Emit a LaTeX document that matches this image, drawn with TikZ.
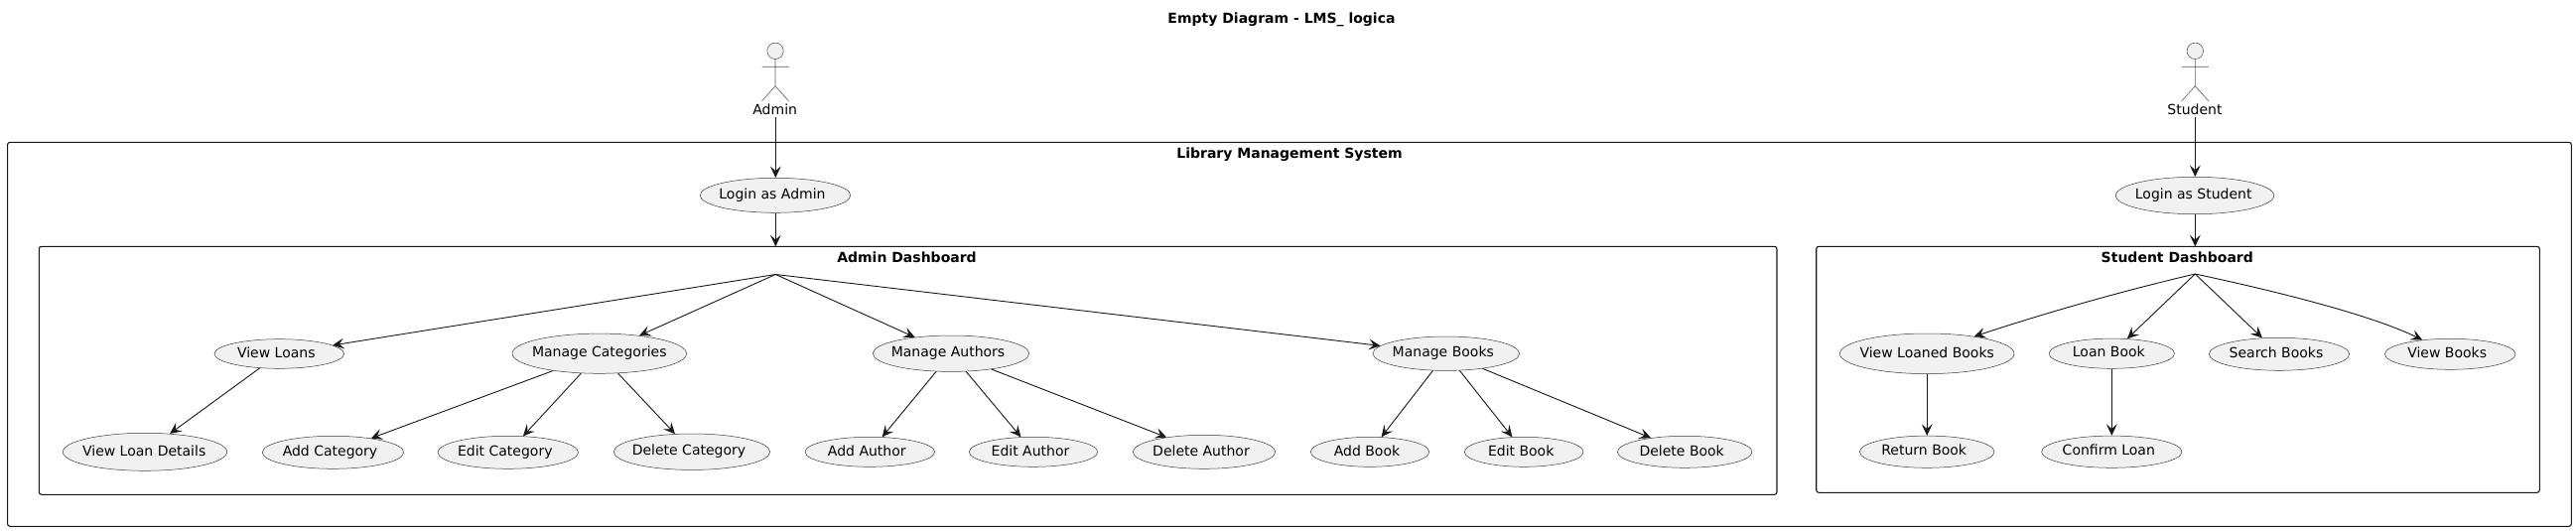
\documentclass[tikz,border=0pt]{standalone}
\usepackage{fontspec}
\setmainfont{DejaVu Sans}
\usetikzlibrary{arrows.meta,shapes.geometric}
\definecolor{ink}{HTML}{181818}
\definecolor{ucfill}{HTML}{F1F1F1}
\newcommand\ut[2][3pt]{\raisebox{-1.85pt}[0pt][0pt]{\makebox[0pt]{\makebox[0pt]{#2}\kern#1}}}
\tikzset{
  uc/.style={ellipse,draw=ink!85,line width=0.25pt,fill=ucfill,inner sep=0pt,text=black,font=\fontsize{7}{9}\selectfont},
  lab/.style={inner sep=0pt,anchor=base,text=black,font=\fontsize{7}{9}\selectfont},
  ttl/.style={inner sep=0pt,anchor=base,text=black,font=\fontsize{7}{9}\selectfont\bfseries},
  box/.style={draw=ink,line width=0.55pt,rounded corners=1.25pt},
  stick/.style={draw=ink!70,line width=0.3pt},
  conn/.style={draw=ink,line width=0.45pt,-{Stealth[length=5.8pt,width=5.4pt,inset=2.4pt]}}
}
\begin{document}
\begin{tikzpicture}[x=0.5pt,y=-0.5pt]
\useasboundingbox (0,0) rectangle (2595,535);
\fill[white] (0,0) rectangle (2595,535);
\node[ttl] (title) at (1291,23.3) {Empty Diagram - LMS\_ logica};
% boxes
\draw[box] (7.6,143.3) rectangle (2590.3,530.3);
\draw[box] (39.3,248.3) rectangle (1790,498.3);
\draw[box] (1829.7,248.3) rectangle (2558.3,496.3);
\node[ttl] (systl) at (1299,159.3) {Library Management System};
\node[ttl] (adtl) at (913.5,264.3) {Admin Dashboard};
\node[ttl] (sttl) at (2193.3,264.3) {Student Dashboard};
% actors
\filldraw[stick,fill=ucfill] (781,51.3) circle (8.2);
\draw[stick] (781,59.5) -- (781,86.7) (767.5,67.3) -- (794.5,67.3) (767.5,101.7) -- (781,86.7) -- (794.5,101.7);
\node[lab] (adm) at (780.7,116) {Admin};
\filldraw[stick,fill=ucfill] (2211.3,51.3) circle (8.2);
\draw[stick] (2211.3,59.5) -- (2211.3,86.7) (2197.8,67.3) -- (2224.8,67.3) (2197.8,101.7) -- (2211.3,86.7) -- (2224.8,101.7);
\node[lab] (stu) at (2211,116) {Student};
% coordinates
\coordinate (admstart) at (781.3,118);
\coordinate (stustart) at (2211.3,118);
\coordinate (admtop) at (781.3,248.3);
\coordinate (stutop) at (2211.3,248.3);
\coordinate (apexa) at (781.3,276.5);
\coordinate (apexs) at (2211.3,276);
% use cases
\node[uc,minimum width=75.8pt,minimum height=17.5pt] (la) at (781,196.8) {\ut{Login as Admin}};
\node[uc,minimum width=79.7pt,minimum height=18.7pt] (ls) at (2211,197) {\ut[1.3pt]{Login as Student}};
\node[uc,minimum width=65.3pt,minimum height=14.8pt] (vl) at (281.3,356.5) {\ut{View Loans}};
\node[uc,minimum width=87.8pt,minimum height=20.1pt] (mc) at (603.8,356.2) {\ut[0pt]{Manage Categories}};
\node[uc,minimum width=78.7pt,minimum height=18.2pt] (ma) at (958,356.2) {\ut{Manage Authors}};
\node[uc,minimum width=73.8pt,minimum height=17.2pt] (mb) at (1456.8,356.2) {\ut{Manage Books}};
\node[uc,minimum width=82.7pt,minimum height=19pt] (vld) at (146,455.3) {\ut[0.8pt]{View Loan Details}};
\node[uc,minimum width=71.2pt,minimum height=16.5pt] (ac) at (335.5,455.8) {\ut{Add Category}};
\node[uc,minimum width=70.8pt,minimum height=16.5pt] (ec) at (511.8,455.8) {\ut{Edit Category}};
\node[uc,minimum width=78.7pt,minimum height=18.2pt] (dc) at (697,455.2) {\ut{Delete Category}};
\node[uc,minimum width=65.3pt,minimum height=15pt] (aa) at (876.3,455.3) {\ut{Add Author}};
\node[uc,minimum width=64.7pt,minimum height=15pt] (ea) at (1041,455.3) {\ut{Edit Author}};
\node[uc,minimum width=71.7pt,minimum height=17pt] (da) at (1213,455.3) {\ut{Delete Author}};
\node[uc,minimum width=59.7pt,minimum height=15pt] (ab) at (1380,455.3) {\ut{Add Book}};
\node[uc,minimum width=59.8pt,minimum height=15pt] (eb) at (1535.2,455.3) {\ut{Edit Book}};
\node[uc,minimum width=67.8pt,minimum height=16pt] (db) at (1697.2,455.3) {\ut{Delete Book}};
\node[uc,minimum width=87.8pt,minimum height=20.3pt] (vlb) at (1941.2,356.3) {\ut[0pt]{View Loaned Books}};
\node[uc,minimum width=63.2pt,minimum height=15.1pt] (lb) at (2127.3,356.2) {\ut{Loan Book}};
\node[uc,minimum width=70.7pt,minimum height=16.5pt] (sb) at (2296,356.8) {\ut{Search Books}};
\node[uc,minimum width=65.8pt,minimum height=15.5pt] (vb) at (2468.2,356.8) {\ut{View Books}};
\node[uc,minimum width=67.8pt,minimum height=16.1pt] (rb) at (1941.2,455.2) {\ut{Return Book}};
\node[uc,minimum width=70.7pt,minimum height=16.1pt] (cl) at (2127.3,455.2) {\ut{Confirm Loan}};
% connectors
\draw[conn] (admstart) -- (la.north -| admstart);
\draw[conn] (stustart) -- (ls.north -| stustart);
\draw[conn] (la.south -| admtop) -- (admtop);
\draw[conn] (ls.south -| stutop) -- (stutop);
\foreach \t in {vl,mc,ma,mb} \draw[conn] (apexa) -- (\t);
\draw[conn] (vl) -- (vld);
\foreach \t in {ac,ec,dc} \draw[conn] (mc) -- (\t);
\foreach \t in {aa,ea,da} \draw[conn] (ma) -- (\t);
\foreach \t in {ab,eb,db} \draw[conn] (mb) -- (\t);
\draw[conn] (apexs) .. controls (2137,293.5) and (2063,314.5) .. (vlb.20);
\draw[conn] (apexs) -- (lb);
\draw[conn] (apexs) -- (sb);
\draw[conn] (apexs) .. controls (2300,295) and (2390,318) .. (vb.153);
\draw[conn] (vlb) -- (rb);
\draw[conn] (lb) -- (cl);
\end{tikzpicture}
\end{document}
